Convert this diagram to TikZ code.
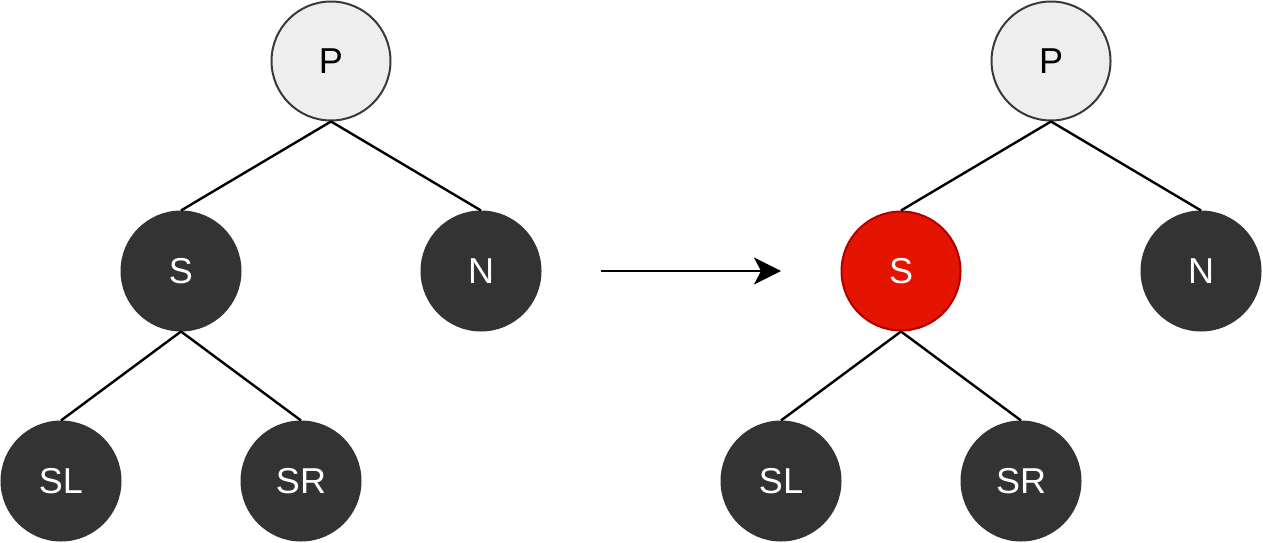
\documentclass[tikz,border=0pt]{standalone}
\usepackage{fontspec}
\setmainfont{Liberation Sans}
\usetikzlibrary{arrows.meta}
\definecolor{pfill}{HTML}{EEEEEE}
\definecolor{pline}{HTML}{36393D}
\definecolor{dark}{HTML}{333333}
\definecolor{redfill}{HTML}{E51400}
\definecolor{redline}{HTML}{B20000}
\begin{document}
\begin{tikzpicture}[x=1pt,y=-1pt,
  tnode/.style={circle,minimum size=119pt,inner sep=0pt,line width=2pt,font=\fontsize{36}{42}\selectfont},
  pnode/.style={tnode,fill=pfill,draw=pline,text=black},
  dnode/.style={tnode,fill=dark,draw=dark,text=white},
  rnode/.style={tnode,fill=redfill,draw=redline,text=white},
  edge/.style={line width=2.4pt,black},
  arr/.style={line width=2.4pt,black,-{Stealth[length=27pt,width=27pt,inset=7pt]}}]
\useasboundingbox (0,0) rectangle (1263,543);
% left tree
\node[pnode] (P1) at (331,61) {P};
\node[dnode] (S1) at (181,271) {S};
\node[dnode] (N1) at (481,271) {N};
\node[dnode] (SL1) at (61,481) {SL};
\node[dnode] (SR1) at (301,481) {SR};
% right tree
\node[pnode] (P2) at (1051,61) {P};
\node[rnode] (S2) at (901,271) {S};
\node[dnode] (N2) at (1201,271) {N};
\node[dnode] (SL2) at (781,481) {SL};
\node[dnode] (SR2) at (1021,481) {SR};
% edges
\draw[edge] (P1.south) -- (S1.north);
\draw[edge] (P1.south) -- (N1.north);
\draw[edge] (S1.south) -- (SL1.north);
\draw[edge] (S1.south) -- (SR1.north);
\draw[edge] (P2.south) -- (S2.north);
\draw[edge] (P2.south) -- (N2.north);
\draw[edge] (S2.south) -- (SL2.north);
\draw[edge] (S2.south) -- (SR2.north);
% arrow
\coordinate (a0) at (601,271);
\coordinate (a1) at (781,271);
\draw[arr] (a0) -- (a1);
\end{tikzpicture}
\end{document}
